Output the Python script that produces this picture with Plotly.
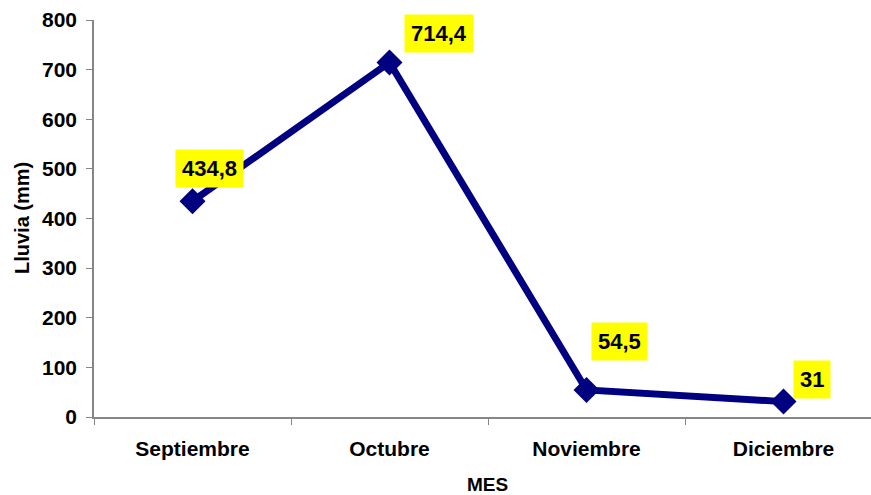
import plotly.graph_objects as go

meses = ["Septiembre", "Octubre", "Noviembre", "Diciembre"]
lluvia = [434.8, 714.4, 54.5, 31]
y_ticks = [0, 100, 200, 300, 400, 500, 600, 700, 800]


def fmt(v):
    return ("%g" % v).replace(".", ",")


FONT = "Arial, 'Liberation Sans', sans-serif"
NAVY = "#000080"
GREY = "#868686"

W, H = 871, 495
L, R, T, B = 94, 0, 20, 78
PW = W - L - R
PH = H - T - B
cat_px = 197
xmax = -0.5 + PW / cat_px

fig = go.Figure()
fig.add_trace(go.Scatter(
    x=meses, y=lluvia, mode="lines+markers",
    line=dict(color=NAVY, width=7),
    marker=dict(symbol="diamond", size=20, color=NAVY),
    showlegend=False, cliponaxis=False,
))

# label offsets (pixels) relative to each point
label_offsets = [(16.5, 33), (49.5, 29), (32.5, 48.5), (28.5, 22)]
for m, v, (dx, dy) in zip(meses, lluvia, label_offsets):
    fig.add_annotation(
        x=m, y=v, xref="x", yref="y", text=fmt(v), showarrow=False,
        xshift=dx, yshift=dy, bgcolor="#FFFF00", borderpad=6,
        font=dict(family=FONT, size=22, color="black", weight="bold"),
    )

# axis titles
fig.add_annotation(
    x=(487.5 - L) / PW, y=(T + PH - 484.5) / PH, xref="paper", yref="paper",
    text="MES", showarrow=False, xanchor="center", yanchor="middle",
    font=dict(family=FONT, size=19, color="black", weight="bold"),
)
fig.add_annotation(
    x=(21.5 - L) / PW, y=0.5, xref="paper", yref="paper",
    text="Lluvia (mm)", showarrow=False, xanchor="center", yanchor="middle",
    textangle=-90,
    font=dict(family=FONT, size=20, color="black", weight="bold"),
)

fig.update_layout(
    width=W, height=H,
    margin=dict(l=L, r=R, t=T, b=B, pad=0),
    paper_bgcolor="white", plot_bgcolor="white",
    font=dict(family=FONT, color="black"),
    xaxis=dict(
        type="category", range=[-0.5, xmax], tickson="boundaries",
        ticks="outside", ticklen=6, tickcolor=GREY, tickwidth=1,
        showline=True, linecolor=GREY, linewidth=1.5, showgrid=False, zeroline=False,
        tickfont=dict(family=FONT, size=21, color="black", weight="bold"),
        ticklabelstandoff=12,
    ),
    yaxis=dict(
        range=[0, 800], tickvals=y_ticks, ticktext=[str(t) for t in y_ticks],
        ticks="outside", ticklen=6, tickcolor=GREY, tickwidth=1,
        showline=True, linecolor=GREY, linewidth=1.5, showgrid=False, zeroline=False,
        tickfont=dict(family=FONT, size=21, color="black", weight="bold"),
        ticklabelstandoff=5,
    ),
)

fig.write_html("out.html", config={"displayModeBar": False},
               post_script="document.body.style.margin='0';")
